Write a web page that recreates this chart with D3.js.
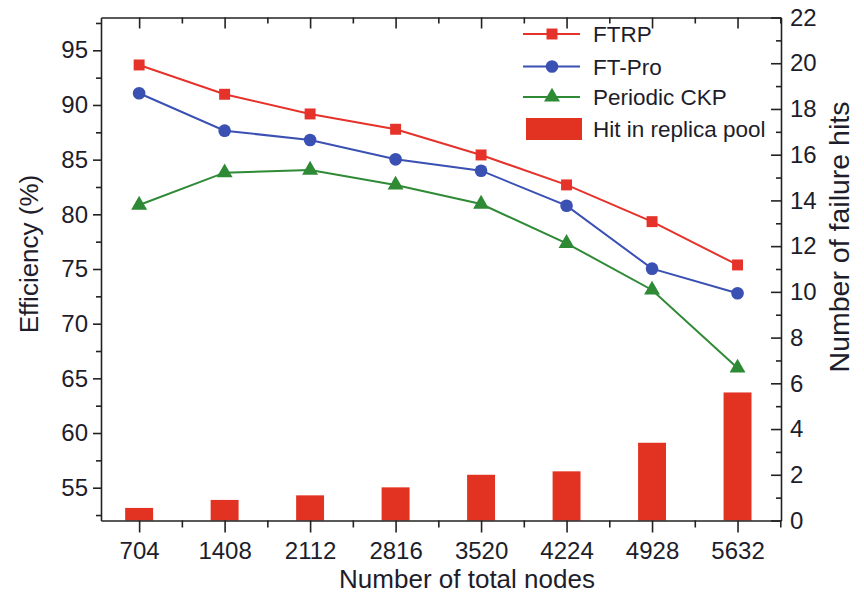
<!DOCTYPE html>
<html>
<head>
<meta charset="utf-8">
<script src="https://cdn.jsdelivr.net/npm/d3@7"></script>
<style>
  body { margin: 0; background: #fff; }
  svg { display: block; font-family: "Liberation Sans", Arial, sans-serif; }
</style>
</head>
<body>
<svg id="chart" width="864" height="595"></svg>
<script>

const nodes = [704, 1408, 2112, 2816, 3520, 4224, 4928, 5632];
const ftrp = [93.66, 90.98, 89.18, 87.78, 85.43, 82.69, 79.33, 75.37];
const ftPro = [91.07, 87.65, 86.8, 85.03, 83.99, 80.79, 75.03, 72.78];
const periodicCkp = [80.85, 83.81, 84.05, 82.68, 80.94, 77.35, 73.08, 65.95];
const replicaHits = [0.55, 0.9, 1.1, 1.45, 2.0, 2.15, 3.4, 5.6];

const effTicks = [55, 60, 65, 70, 75, 80, 85, 90, 95];
const hitTicks = [0, 2, 4, 6, 8, 10, 12, 14, 16, 18, 20, 22];

const lineSeries = [
  { name: "FTRP", values: ftrp, color: "#e5322a", symbol: d3.symbolSquare, size: 120 },
  { name: "FT-Pro", values: ftPro, color: "#3a50b2", symbol: d3.symbolCircle, size: 125 },
  { name: "Periodic CKP", values: periodicCkp, color: "#2f8a36", symbol: d3.symbolTriangle, size: 110 }
];
const barName = "Hit in replica pool";
const barColor = "#e23222";

const svg = d3.select("#chart");

let x = d3.scaleLinear().domain([390, 5990]).range([101, 781]),
    yL = d3.scaleLinear().domain([52, 98]).range([520.5, 17.5]),
    yR = d3.scaleLinear().domain([0, 22]).range([520.5, 17.5]);

const barHalf = 115;

// bars on the right axis
svg.append("g")
  .classed("bars", true)
  .selectAll("rect")
  .data(nodes.map((n, i) => ({ n: n, v: replicaHits[i] })))
  .enter().append("rect")
    .attr("x", d => x(d.n - barHalf))
    .attr("width", d => x(d.n + barHalf) - x(d.n - barHalf))
    .attr("y", d => yR(d.v))
    .attr("height", d => yR(0) - yR(d.v))
    .attr("fill", barColor);

// lines + markers on the left axis
let line = d3.line()
  .x((d, i) => x(nodes[i]))
  .y(d => yL(d));

let series = svg.append("g")
  .classed("series", true)
  .selectAll("g")
  .data(lineSeries)
  .enter().append("g");

series.append("path")
  .attr("d", d => line(d.values))
  .attr("fill", "none")
  .attr("stroke", d => d.color)
  .attr("stroke-width", 2);

series.each(function(s) {
  d3.select(this).selectAll("path.marker")
    .data(s.values)
    .enter().append("path")
      .classed("marker", true)
      .attr("transform", (d, i) => `translate(${x(nodes[i])},${yL(d)})`)
      .attr("d", d3.symbol().type(s.symbol).size(s.size))
      .attr("fill", s.color);
});

// axes
let styleAxis = (_) => {
  _.selectAll("path.domain").attr("stroke", "#222").attr("stroke-width", 1.6);
  _.selectAll(".tick line").attr("stroke", "#222").attr("stroke-width", 1.6);
  _.selectAll(".tick text")
    .attr("fill", "#1d1d2b")
    .attr("font-size", 24)
    .attr("font-family", "Liberation Sans, Arial, sans-serif");
};

let minor = (g) => {
  g.select("path.domain").remove();
};

// left
svg.append("g")
  .attr("transform", "translate(101,0)")
  .call(d3.axisLeft(yL).tickValues(d3.range(52.5, 98, 5)).tickSize(5).tickFormat(""))
  .call(minor).call(styleAxis);
svg.append("g")
  .attr("transform", "translate(101,0)")
  .call(d3.axisLeft(yL).tickValues(effTicks).tickSize(8).tickSizeOuter(0).tickPadding(5))
  .call(styleAxis);

// right
svg.append("g")
  .attr("transform", "translate(781,0)")
  .call(d3.axisRight(yR).tickValues(d3.range(1, 22, 2)).tickSize(-5).tickFormat(""))
  .call(minor).call(styleAxis);
svg.append("g")
  .attr("transform", "translate(781,0)")
  .call(d3.axisRight(yR).tickValues(hitTicks).tickSize(-10).tickSizeOuter(0).tickPadding(9))
  .call(styleAxis);

// bottom
svg.append("g")
  .attr("transform", "translate(0,520.5)")
  .call(d3.axisBottom(x).tickValues(nodes.map(n => n + 352).filter(n => n < 5990)).tickSize(7).tickFormat(""))
  .call(minor).call(styleAxis);
svg.append("g")
  .attr("transform", "translate(0,520.5)")
  .call(d3.axisBottom(x).tickValues(nodes).tickSize(12).tickSizeOuter(0).tickPadding(9).tickFormat(d3.format("d")))
  .call(styleAxis);

// top
svg.append("g")
  .attr("transform", "translate(0,17.5)")
  .call(d3.axisTop(x).tickValues(nodes.map(n => n + 352).filter(n => n < 5990)).tickSize(-6).tickFormat(""))
  .call(minor).call(styleAxis);
svg.append("g")
  .attr("transform", "translate(0,17.5)")
  .call(d3.axisTop(x).tickValues(nodes).tickSize(-11).tickSizeOuter(0).tickFormat(""))
  .call(styleAxis);

// axis titles
let title = (tx, ty, rot, size, txt) => {
  svg.append("text")
    .attr("transform", `translate(${tx},${ty}) rotate(${rot})`)
    .attr("text-anchor", "middle")
    .attr("font-size", size)
    .attr("fill", "#1d1d2b")
    .text(txt);
};
title(467, 588, 0, 26, "Number of total nodes");
title(38, 254, -90, 26, "Efficiency (%)");
title(849, 237, -90, 28.5, "Number of failure hits");

// legend
let legend = svg.append("g").classed("legend", true);
let rowY = [34, 66.5, 97, 129];

lineSeries.forEach((s, i) => {
  let g = legend.append("g").attr("transform", `translate(0,${rowY[i]})`);
  g.append("line")
    .attr("x1", 523).attr("x2", 580)
    .attr("stroke", s.color).attr("stroke-width", 2);
  g.append("path")
    .attr("transform", "translate(552,0)")
    .attr("d", d3.symbol().type(s.symbol).size(s.size))
    .attr("fill", s.color);
  g.append("text")
    .attr("x", 593).attr("y", 8)
    .attr("font-size", 22.5)
    .attr("fill", "#1d1d2b")
    .text(s.name);
});

let gb = legend.append("g").attr("transform", `translate(0,${rowY[3]})`);
gb.append("rect")
  .attr("x", 526).attr("y", -11)
  .attr("width", 56).attr("height", 22)
  .attr("fill", barColor);
gb.append("text")
  .attr("x", 593).attr("y", 8)
  .attr("font-size", 22.5)
  .attr("fill", "#1d1d2b")
  .text(barName);

</script>
</body>
</html>
